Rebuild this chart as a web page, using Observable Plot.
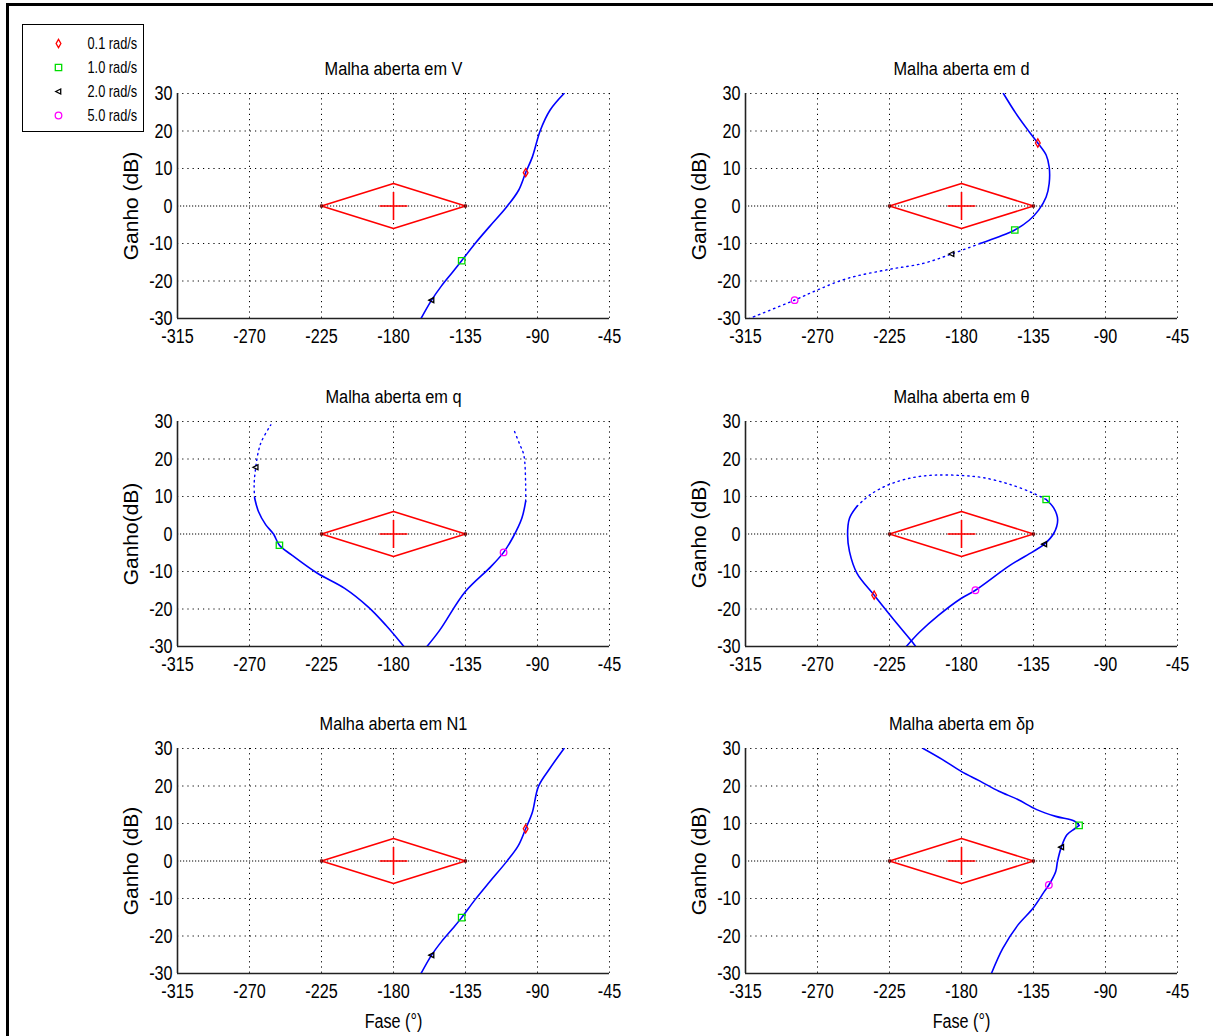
<!DOCTYPE html>
<html><head><meta charset="utf-8">
<script src="https://cdn.jsdelivr.net/npm/d3@7"></script>
<script src="https://cdn.jsdelivr.net/npm/@observablehq/plot@0.6"></script>
<style>
body{margin:0;background:#fff;width:1213px;height:1036px;overflow:hidden;position:relative}
#frame{position:absolute;left:6px;top:3px;width:1300px;height:1100px;border:3px solid #000;box-sizing:border-box}
.panel{position:absolute}
#legend{position:absolute;left:22px;top:24px;width:122px;height:108px;border:1px solid #000;box-sizing:border-box;background:#fff}
svg{overflow:visible}
</style></head><body>
<div id="frame"></div>
<div id="legend"></div>
<script>
// ---------- data ----------
const xTicks = [-315, -270, -225, -180, -135, -90, -45];
const yTicks = [-30, -20, -10, 0, 10, 20, 30];
const freqLabels = ["0.1 rad/s", "1.0 rad/s", "2.0 rad/s", "5.0 rad/s"];

// margin diamond (phase, gain)
const marginPhase = [-225, -180, -135, -180, -225];
const marginGain = [0, 6, 0, -6, 0];
const criticalPhase = [-180];
const criticalGain = [0];

// Malha aberta em V
const vPhase = [-162.8, -156.2, -150, -143, -137.4, -129, -120, -109.2, -101.8, -97.4, -93.2, -88.2, -82.1, -73.4];
const vGain = [-30, -25.1, -21.3, -17.6, -14.6, -10, -5.5, -0.2, 4.2, 8.9, 13.1, 20.2, 25.6, 30];
const vMarkPhase = [-97.4, -137.4, -156.2, null];
const vMarkGain = [8.9, -14.6, -25.1, null];

// Malha aberta em d
const dPhase = [-153.8, -146.0, -137.7, -132.3, -127.1, -125.2, -125.2, -127.1, -131.8, -137.7, -146.7, -156.6, -168.4];
const dGain = [30, 24.7, 19.8, 16.8, 13.6, 10.4, 6.0, 2.4, -1.1, -3.8, -6.4, -8.2, -10.0];
const dPhaseSparse = [-168.4, -186.2, -203.9, -225.2, -251.2, -270.1, -284.3, -312.6];
const dGainSparse = [-10.0, -12.8, -15.3, -16.9, -19.3, -22.4, -25.1, -30];
const dMarkPhase = [-132.3, -146.7, -186.2, -284.3];
const dMarkGain = [16.8, -6.4, -12.8, -25.1];

// Malha aberta em q
const qLeftPhase = [-173.5, -184.6, -195.7, -210.5, -227.8, -243.9, -251.3, -255.0, -259.9, -264.4, -266.8];
const qLeftGain = [-30, -24.4, -19.5, -14.5, -10.4, -5.5, -3.0, 0, 2.5, 6.0, 9.6];
const qLeftPhaseSparse = [-266.8, -267.1, -266.1, -264.4, -262.4, -256.7];
const qLeftGainSparse = [9.6, 13.2, 17.8, 22.1, 24.8, 29.1];
const qRightPhase = [-159.1, -151.2, -135.2, -119.1, -111.2, -105.5, -99.8, -97.4];
const qRightGain = [-30, -25.7, -15.4, -8.7, -4.9, -1.0, 4.2, 8.7];
const qRightPhaseSparse = [-97.4, -97.4, -98.6, -101.1, -104.8];
const qRightGainSparse = [8.7, 13.2, 21.2, 23.9, 27.8];
const qMarkPhase = [null, -251.3, -266.1, -111.2];
const qMarkGain = [null, -3.0, 17.8, -4.9];

// Malha aberta em θ
const tPhaseA = [-208.6, -211.5, -222.8, -234.6, -245.3, -250.0, -251.2, -250.0, -245.3];
const tGainA = [-30, -28.4, -22.6, -16.3, -10.5, -4.7, -0.2, 4.2, 7.4];
const tPhaseSparse = [-245.3, -237.0, -225.2, -211.0, -196.8, -180.3, -166.1, -149.5, -135.3, -127.1];
const tGainSparse = [7.4, 10.5, 13.2, 15.0, 15.7, 15.6, 15.0, 13.2, 10.9, 9.2];
const tPhaseB = [-127.1, -122.3, -119.9, -122.3, -128.2, -135.3, -149.5, -171.3, -180.3, -194.4, -206.3, -214.5];
const tGainB = [9.2, 6.9, 3.8, 0.2, -2.7, -4.7, -8.3, -15.0, -17.2, -21.7, -26.2, -30];
const tMarkPhase = [-234.6, -127.1, -128.2, -171.3];
const tMarkGain = [-16.3, 9.2, -2.7, -15.0];

// Malha aberta em N1
const nPhase = [-162.8, -156.2, -150, -143, -137.4, -129, -120, -109.2, -102, -97.4, -93.2, -89.4, -82.1, -73.4];
const nGain = [-30, -25.1, -21.5, -18, -15.1, -10.3, -5.6, -0.1, 4.1, 8.6, 13, 19.9, 24.8, 30];
const nMarkPhase = [-97.4, -137.4, -156.2, null];
const nMarkGain = [8.6, -15.1, -25.1, null];

// Malha aberta em δp (upper branch: low frequencies, lower branch: above 1 rad/s)
const pUpperPhase = [-203.9, -192.1, -180.2, -168.4, -156.6, -144.8, -133.0, -121.1, -109.3, -106.5];
const pUpperGain = [30, 27.1, 23.9, 21.3, 18.6, 16.4, 13.7, 11.9, 10.6, 9.5];
const pLowerPhase = [-106.5, -109.3, -114.1, -117.6, -120.0, -121.1, -125.4, -128.2, -135.3, -144.8, -154.2, -161.3];
const pLowerGain = [9.5, 8.6, 7.0, 3.7, -0.1, -2.8, -6.4, -8.1, -12.6, -17.1, -23.3, -30];
const pMarkPhase = [null, -106.5, -117.6, -125.4];
const pMarkGain = [null, 9.5, 3.7, -6.4];

// ---------- styles ----------
const NARROW = "'Liberation Sans',Arial,sans-serif";
const REGULAR = "'Liberation Sans', Arial, sans-serif";
const triLeft = {draw(ctx, size) {const s = Math.sqrt(size) * 0.6; ctx.moveTo(-s, 0); ctx.lineTo(s * 0.8, -s * 0.9); ctx.lineTo(s * 0.8, s * 0.9); ctx.closePath();}};
const markerStyles = [
  {symbol: "diamond", stroke: "#ff0000", r: 2.5},
  {symbol: "square", stroke: "#00dd00", r: 3.6},
  {symbol: triLeft, stroke: "#000000", r: 2.6},
  {symbol: "circle", stroke: "#ff00ff", r: 3.3}
];
const BLUE = "#0000ff";

// condense text horizontally (MATLAB-like narrow font); each text is positioned by its own transform
function condense(svg, scaleFor) {
  svg.querySelectorAll("text").forEach(t => {
    const fam = t.closest("[font-family]");
    if (fam && fam.getAttribute("font-family") === REGULAR) return;
    const fs = t.closest("[font-size]");
    const sx = scaleFor(fs ? fs.getAttribute("font-size") : null);
    const tr = t.getAttribute("transform") || "";
    t.setAttribute("transform", tr + ` scale(${sx},1)`);
  });
}

function seg(ph, g) { return ph.map((p, i) => ({p, g: g[i]})); }

function markerMarks(mp, mg) {
  return markerStyles.map((st, i) => mp[i] == null ? null :
    Plot.dot([{p: mp[i], g: mg[i]}], {x: "p", y: "g", symbol: st.symbol, stroke: st.stroke, r: st.r, strokeWidth: 1.3, fill: "none"}));
}

function panel({axisLeft, axisTop, title, ylabel, xlabel, solid, sparse, mp, mg}) {
  const ml = 80, mr = 14, mt = 45, mb = xlabel ? 62 : 40;
  const W = 432, H = 225;
  const chart = Plot.plot({
    width: ml + W + mr, height: mt + H + mb,
    marginLeft: ml, marginRight: mr, marginTop: mt, marginBottom: mb,
    style: {fontFamily: NARROW, fontSize: "21px", background: "transparent", overflow: "visible", color: "#000"},
    x: {domain: [-315, -45], ticks: xTicks, tickFormat: d => String(d), tickSize: 0, tickPadding: 10, label: null},
    y: {domain: [-30, 30], ticks: yTicks, tickFormat: d => String(d), tickSize: 0, tickPadding: 5, label: null},
    marks: [
      Plot.ruleX(xTicks, {stroke: "#000", strokeWidth: 1, strokeDasharray: "1.2,4"}),
      Plot.ruleY(yTicks.filter(d => d !== 0), {stroke: "#000", strokeWidth: 1, strokeDasharray: "1.2,4"}),
      Plot.ruleY([0], {stroke: "#000", strokeWidth: 1, strokeDasharray: "1.2,1.8"}),
      Plot.ruleX([-315], {stroke: "#222", strokeWidth: 1.6}),
      Plot.ruleY([-30], {stroke: "#222", strokeWidth: 1.6}),
      Plot.line(seg(marginPhase, marginGain), {x: "p", y: "g", stroke: "#ff0000", strokeWidth: 1.6}),
      Plot.dot(seg([marginPhase[0], marginPhase[2]], [marginGain[0], marginGain[2]]), {x: "p", y: "g", symbol: "square", r: 1.3, stroke: "#550000", strokeWidth: 1}),
      Plot.dot(seg(criticalPhase, criticalGain), {x: "p", y: "g", symbol: "plus", r: 9, stroke: "#ff0000", strokeWidth: 1.6}),
      ...solid.map(([ph, g]) => Plot.line(seg(ph, g), {x: "p", y: "g", stroke: BLUE, strokeWidth: 1.6, curve: "catmull-rom", clip: true})),
      ...sparse.map(([ph, g]) => Plot.line(seg(ph, g), {x: "p", y: "g", stroke: BLUE, strokeWidth: 1.4, strokeDasharray: "1.4,4", curve: "catmull-rom", clip: true})),
      ...markerMarks(mp, mg),
      Plot.text([title], {text: d => d, frameAnchor: "top", lineAnchor: "middle", dy: -25, fontSize: 19}),
      Plot.text([ylabel], {text: d => d, frameAnchor: "left", textAnchor: "middle", lineAnchor: "middle", dx: -46, rotate: -90, fontSize: 21, fontFamily: REGULAR}),
      xlabel ? Plot.text([xlabel], {text: d => d, frameAnchor: "bottom", lineAnchor: "middle", dy: 48, fontSize: 21}) : null
    ]
  });
  condense(chart, fs => fs === "19" ? 0.86 : 0.77);
  const div = document.createElement("div");
  div.className = "panel";
  div.style.left = (axisLeft - ml) + "px";
  div.style.top = (axisTop - mt) + "px";
  div.appendChild(chart);
  document.body.appendChild(div);
}

const colL = 177, colR = 745;
const rows = [93, 420.5, 747.5];

panel({axisLeft: colL, axisTop: rows[0], title: "Malha aberta em V", ylabel: "Ganho (dB)",
  solid: [[vPhase, vGain]], sparse: [], mp: vMarkPhase, mg: vMarkGain});
panel({axisLeft: colR, axisTop: rows[0], title: "Malha aberta em d", ylabel: "Ganho (dB)",
  solid: [[dPhase, dGain]], sparse: [[dPhaseSparse, dGainSparse]], mp: dMarkPhase, mg: dMarkGain});
panel({axisLeft: colL, axisTop: rows[1], title: "Malha aberta em q", ylabel: "Ganho(dB)",
  solid: [[qLeftPhase, qLeftGain], [qRightPhase, qRightGain]], sparse: [[qLeftPhaseSparse, qLeftGainSparse], [qRightPhaseSparse, qRightGainSparse]], mp: qMarkPhase, mg: qMarkGain});
panel({axisLeft: colR, axisTop: rows[1], title: "Malha aberta em θ", ylabel: "Ganho (dB)",
  solid: [[tPhaseA, tGainA], [tPhaseB, tGainB]], sparse: [[tPhaseSparse, tGainSparse]], mp: tMarkPhase, mg: tMarkGain});
panel({axisLeft: colL, axisTop: rows[2], title: "Malha aberta em N1", ylabel: "Ganho (dB)", xlabel: "Fase (°)",
  solid: [[nPhase, nGain]], sparse: [], mp: nMarkPhase, mg: nMarkGain});
panel({axisLeft: colR, axisTop: rows[2], title: "Malha aberta em δp", ylabel: "Ganho (dB)", xlabel: "Fase (°)",
  solid: [[pUpperPhase, pUpperGain], [pLowerPhase, pLowerGain]], sparse: [], mp: pMarkPhase, mg: pMarkGain});

// ---------- legend ----------
const legendRows = freqLabels.map((label, i) => ({label, i}));
const legend = Plot.plot({
  width: 120, height: 106, margin: 0,
  style: {fontFamily: NARROW, fontSize: "16px", background: "transparent", overflow: "visible"},
  x: {domain: [0, 120], range: [0, 120], axis: null},
  y: {type: "point", domain: freqLabels, range: [17, 91], padding: 0, axis: null},
  marks: [
    ...markerStyles.map((st, i) => Plot.dot([legendRows[i]], {x: () => 35, y: "label", symbol: st.symbol, stroke: st.stroke, r: st.r, strokeWidth: 1.3, fill: "none"})),
    Plot.text(legendRows, {x: () => 64, y: "label", text: "label", textAnchor: "start"})
  ]
});
condense(legend, () => 0.8);
document.getElementById("legend").appendChild(legend);
</script>
</body></html>
